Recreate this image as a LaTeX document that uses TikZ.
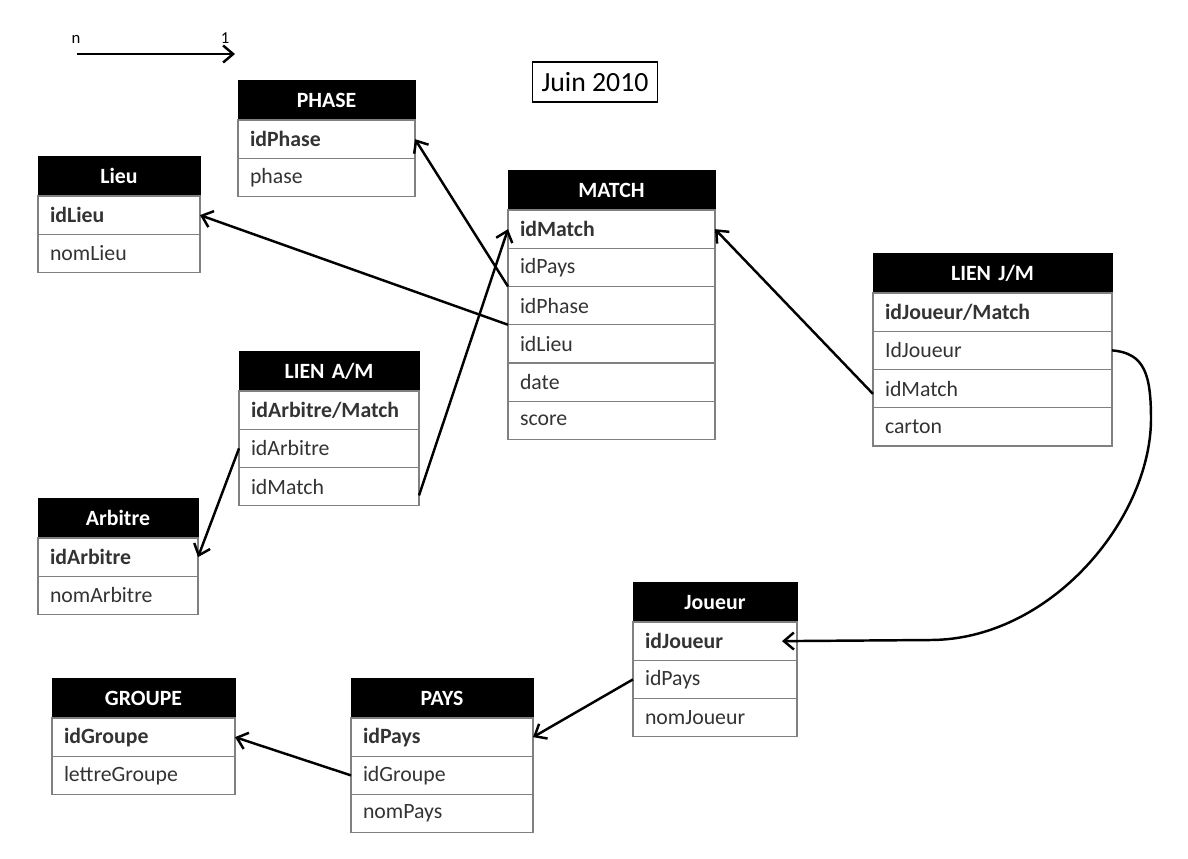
\documentclass[tikz,border=0pt]{standalone}
\usepackage{fontspec}
\setmainfont{Carlito}
\usetikzlibrary{positioning,arrows.meta}

\begin{document}
\begin{tikzpicture}[
  font=\fontsize{12.4}{15}\selectfont,
  tabhead/.style={draw, fill=black, text=white, font=\fontsize{12.4}{15}\selectfont\bfseries,
    text width=#1, align=center, inner xsep=0.24cm, minimum height=0.8cm, outer sep=0pt, anchor=north west},
  tabrow/.style={draw=gray, line width=0.6pt, text=black!80, text width=#1, align=left,
    inner xsep=0.24cm, minimum height=0.765cm, outer sep=0pt},
  link/.style={-{Straight Barb[length=2mm,width=3.4mm]}, line width=1.4pt}
]
\useasboundingbox (0,0) rectangle (23.76,-17.16);

% Legend
\node[font=\fontsize{9.5}{11}\selectfont] (leg-n) at (1.52,-0.78) {n};
\node[font=\fontsize{9.5}{11}\selectfont] (leg-one) at (4.5,-0.76) {1};
\coordinate (leg-from) at (1.54,-1.08);
\coordinate (leg-to) at (4.7,-1.08);
\draw[link] (leg-from) -- (leg-to);

\node[draw, line width=1pt, font=\fontsize{15.8}{18}\selectfont, minimum width=2.5cm, minimum height=0.8cm] (date) at (11.9,-1.64) {Juin 2010};

% PHASE
\node[tabhead=3.06cm] (phase) at (4.76,-1.6) {PHASE};
\node[tabrow=3.06cm, below=0pt of phase] (phase-id) {\textbf{idPhase}};
\node[tabrow=3.06cm, below=0pt of phase-id] (phase-phase) {phase};

% Lieu
\node[tabhead=2.76cm] (lieu) at (0.76,-3.12) {Lieu};
\node[tabrow=2.76cm, below=0pt of lieu] (lieu-id) {\textbf{idLieu}};
\node[tabrow=2.76cm, below=0pt of lieu-id] (lieu-nom) {nomLieu};

% MATCH
\node[tabhead=3.66cm] (match) at (10.16,-3.4) {MATCH};
\node[tabrow=3.66cm, below=0pt of match] (match-id) {\textbf{idMatch}};
\node[tabrow=3.66cm, below=0pt of match-id] (match-pays) {idPays};
\node[tabrow=3.66cm, below=0pt of match-pays] (match-phase) {idPhase};
\node[tabrow=3.66cm, below=0pt of match-phase] (match-lieu) {idLieu};
\node[tabrow=3.66cm, below=0pt of match-lieu] (match-date) {date};
\node[tabrow=3.66cm, below=0pt of match-date] (match-score) {score};

% LIEN J/M
\node[tabhead=4.3cm] (jm) at (17.46,-5.06) {LIEN J/M};
\node[tabrow=4.3cm, below=0pt of jm] (jm-id) {\textbf{idJoueur/Match}};
\node[tabrow=4.3cm, below=0pt of jm-id] (jm-joueur) {IdJoueur};
\node[tabrow=4.3cm, below=0pt of jm-joueur] (jm-match) {idMatch};
\node[tabrow=4.3cm, below=0pt of jm-match] (jm-carton) {carton};

% LIEN A/M
\node[tabhead=3.12cm] (am) at (4.78,-7.02) {LIEN A/M};
\node[tabrow=3.12cm, below=0pt of am] (am-id) {\textbf{idArbitre/Match}};
\node[tabrow=3.12cm, below=0pt of am-id] (am-arb) {idArbitre};
\node[tabrow=3.12cm, below=0pt of am-arb] (am-match) {idMatch};

% Arbitre
\node[tabhead=2.72cm] (arbitre) at (0.76,-9.96) {Arbitre};
\node[tabrow=2.72cm, below=0pt of arbitre] (arbitre-id) {\textbf{idArbitre}};
\node[tabrow=2.72cm, below=0pt of arbitre-id] (arbitre-nom) {nomArbitre};

% Joueur
\node[tabhead=2.8cm] (joueur) at (12.66,-11.64) {Joueur};
\node[tabrow=2.8cm, below=0pt of joueur] (joueur-id) {\textbf{idJoueur}};
\node[tabrow=2.8cm, below=0pt of joueur-id] (joueur-pays) {idPays};
\node[tabrow=2.8cm, below=0pt of joueur-pays] (joueur-nom) {nomJoueur};

% GROUPE
\node[tabhead=3.18cm] (groupe) at (1.04,-13.56) {GROUPE};
\node[tabrow=3.18cm, below=0pt of groupe] (groupe-id) {\textbf{idGroupe}};
\node[tabrow=3.18cm, below=0pt of groupe-id] (groupe-lettre) {lettreGroupe};

% PAYS
\node[tabhead=3.16cm] (pays) at (7.02,-13.56) {PAYS};
\node[tabrow=3.16cm, below=0pt of pays] (pays-id) {\textbf{idPays}};
\node[tabrow=3.16cm, below=0pt of pays-id] (pays-grp) {idGroupe};
\node[tabrow=3.16cm, below=0pt of pays-grp] (pays-nom) {nomPays};

% Links
\draw[link] (match-phase.north west) -- (phase-id.east);
\draw[link] (match-lieu.north west) -- (lieu-id.east);
\draw[link] ([yshift=-5pt]am-match.east) -- (match-id.west);
\draw[link] (am-arb.west) -- (arbitre-id.east);
\draw[link] ([yshift=-3pt]jm-match.west) -- (match-id.east);
\draw[link] (jm-joueur.east) .. controls (22.9,-7.06) and (23.02,-7.5) .. (23.02,-8.4)
  .. controls (23.0,-10.4) and (21.0,-12.8) .. (18.6,-12.8) -- ([xshift=-0.3cm]joueur-id.east);
\draw[link] (joueur-pays.west) -- (pays-id.east);
\draw[link] (pays-grp.west) -- (groupe-id.east);
\end{tikzpicture}
\end{document}
